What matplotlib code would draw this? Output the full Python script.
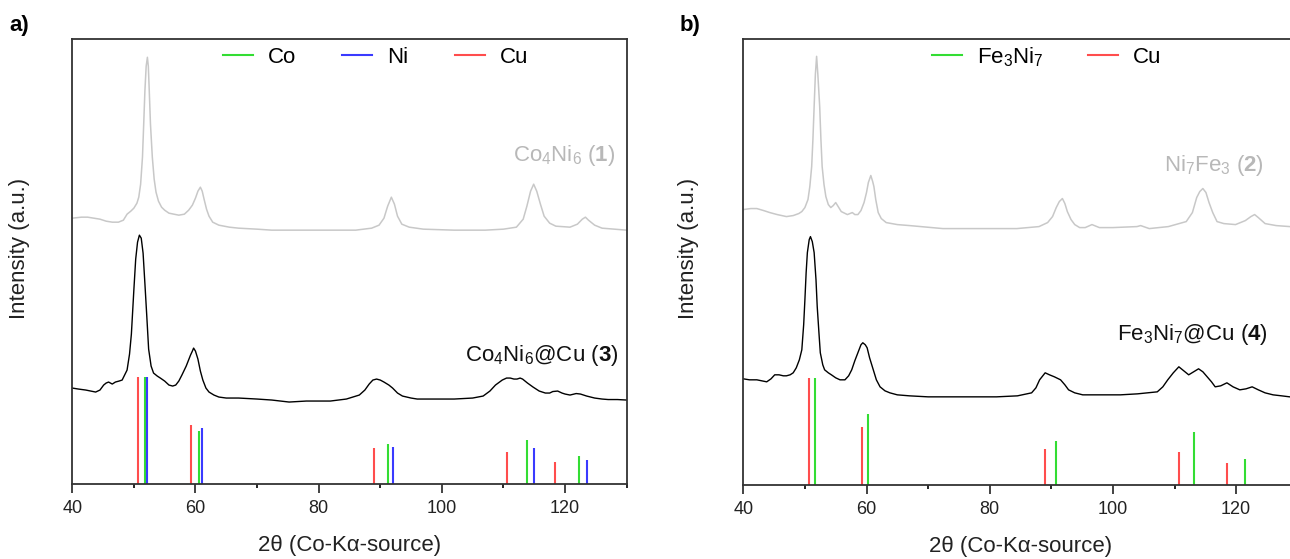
import matplotlib
matplotlib.use("Agg")
import matplotlib.pyplot as plt
from matplotlib.lines import Line2D

plt.rcParams['font.family'] = ['Liberation Sans', 'DejaVu Sans']
plt.rcParams['mathtext.fontset'] = 'custom'
plt.rcParams['mathtext.rm'] = 'Liberation Sans'
plt.rcParams['mathtext.it'] = 'Liberation Sans:italic'
plt.rcParams['mathtext.bf'] = 'Liberation Sans:bold'

# ---------------- Panel a data (2theta, intensity a.u.) ----------------
a_gray_tt = [40, 41.5, 42.5, 43.5, 44.5, 45.5, 46.5, 47.5, 48.3, 48.9, 49.5, 50.0, 50.5, 50.8,
             51.1, 51.4, 51.6, 51.8, 52.0, 52.2, 52.35, 52.5, 52.7, 53.0, 53.3, 53.6, 54.0,
             54.5, 55.0, 55.7, 56.5, 57.3, 58.2, 58.9, 59.5, 60.0, 60.4, 60.8, 61.1, 61.4,
             61.8, 62.2, 62.8, 63.8, 65.5, 67.0, 70, 72.4, 76, 81.9, 86, 88.6, 89.8, 90.6,
             91.2, 91.8, 92.3, 92.8, 93.5, 94.7, 97, 102, 107, 110, 112.1, 113.2, 113.8,
             114.4, 114.9, 115.4, 116.0, 116.6, 117.5, 118.5, 120.8, 122.0, 122.8, 123.3,
             123.8, 124.8, 126, 128, 130]
a_gray_int = [266, 267, 267, 266, 265, 263, 262, 262, 264, 270, 273, 276, 281, 287,
              300, 327, 360, 394, 418, 427, 418, 394, 360, 327, 305, 292, 283,
              277, 274, 271, 270, 269, 270, 274, 279, 286, 293, 297, 293, 285,
              275, 268, 262, 259, 257, 256, 255, 254, 254, 254, 254, 256, 259, 266,
              278, 287, 280, 268, 260, 257, 255, 254, 254, 255, 257, 265, 278,
              293, 300, 293, 280, 268, 261, 258, 257, 260, 265, 267,
              264, 259, 256, 255, 254]

a_black_tt = [40, 41, 42.2, 43.0, 43.8, 44.5, 45.1, 45.5, 45.9, 46.5, 47.0, 47.6, 48.1, 48.9,
              49.3, 49.6, 50.0, 50.3, 50.6, 50.9, 51.2, 51.5, 51.8, 52.1, 52.4, 52.8, 53.2,
              53.8, 54.3, 55.0, 55.7, 56.3, 56.8, 57.3, 57.8, 58.5, 59.2, 59.5, 59.7, 60.0,
              60.4, 60.8, 61.2, 61.7, 62.2, 63.0, 63.8, 65, 67.0, 70, 72.4, 75.2, 78, 81.9,
              84.5, 86.6, 87.5, 88.2, 88.8, 89.4, 90.0, 90.6, 91.4, 92.0, 92.8, 93.6, 95.0,
              96.0, 99, 102.0, 105, 106.7, 107.8, 108.7, 109.8, 110.5, 111.1, 111.7, 112.2,
              112.7, 113.1, 113.9, 114.8, 115.8, 116.8, 117.5, 118.0, 118.8, 119.5, 120.0,
              120.8, 121.8, 122.5, 123.5, 124.8, 126, 127, 128.5, 130]
a_black_int = [96, 95, 94, 93, 92, 94, 99, 101, 102, 100, 102, 103, 104, 114,
               130, 150, 194, 225, 242, 249, 246, 231, 200, 168, 135, 118, 111,
               108, 106, 103, 99, 98, 99, 103, 109, 118, 129, 133, 136, 133,
               125, 113, 104, 96, 92, 89, 87, 86, 86, 85, 84, 82, 83, 83,
               85, 89, 94, 100, 104, 105, 104, 102, 99, 96, 91, 88, 86,
               85, 85, 85, 86, 88, 93, 99, 104, 106, 106, 105, 105,
               106, 105, 101, 97, 93, 91, 91, 92.5, 93, 91, 90,
               89, 90.5, 90, 88, 86, 85, 84.5, 84.5, 84]

a_cu_tt = [50.7, 59.3, 89.0, 110.6, 118.4]
a_cu_int = [107, 59, 36, 32, 22]
a_co_tt = [51.8, 60.5, 91.3, 113.9, 122.2]
a_co_int = [107, 53, 40, 44, 28]
a_ni_tt = [52.2, 61.0, 92.0, 115.0, 123.5]
a_ni_int = [107, 56, 37, 36, 24]

# ---------------- Panel b data ----------------
b_gray_tt = [40, 41.2, 42.2, 43.3, 44.3, 45.5, 47.0, 48.1, 49.0, 49.5, 50.0, 50.5, 50.8, 51.1,
             51.3, 51.5, 51.7, 51.9, 52.1, 52.4, 52.6, 52.8, 53.1, 53.4, 53.8, 54.2, 54.6,
             55.0, 55.4, 55.9, 56.9, 57.3, 57.7, 58.1, 58.6, 59.1, 59.6, 60.0, 60.3, 60.7,
             61.0, 61.2, 61.5, 61.9, 62.4, 63.2, 65, 67.0, 72.4, 78, 84.4, 88, 89.4, 90.2,
             90.8, 91.3, 91.8, 92.2, 92.6, 93.2, 93.8, 94.6, 95.5, 96.6, 97.8, 100, 103.9,
             104.5, 105.9, 109, 111.9, 112.9, 113.6, 114.1, 114.6, 115.1, 115.6, 116.2,
             116.9, 118, 119.9, 121.5, 122.4, 123.0, 123.6, 124.7, 126.5, 128.7, 130]
b_gray_int = [275, 276, 276, 274, 272, 270, 268, 269, 271, 273, 277, 285, 298, 318,
              345, 378, 410, 428, 410, 378, 345, 318, 300, 288, 280, 277, 279,
              282, 278, 273, 270, 271, 272, 270, 270, 274, 282, 292, 302, 309,
              303, 298, 285, 272, 266, 262, 260, 259, 256, 256, 256, 258, 262, 268,
              277, 283, 286, 281, 273, 265, 260, 257, 257, 260, 257, 257, 258,
              259, 256, 258, 263, 272, 287, 293, 296, 292, 282, 272,
              263, 261, 260, 264, 268, 270, 267, 261, 259, 258, 257]

b_black_tt = [40, 41, 42.2, 43.0, 43.8, 44.5, 45.1, 45.8, 46.5, 47.0, 47.6, 48.1, 48.6, 49.1,
              49.5, 49.8, 50.0, 50.2, 50.4, 50.7, 50.9, 51.2, 51.5, 51.8, 52.0, 52.3, 52.5,
              52.9, 53.2, 53.8, 54.3, 55.0, 55.7, 56.5, 57.1, 57.6, 58.1, 58.6, 59.1, 59.4,
              59.8, 60.1, 60.5, 61.1, 61.6, 62.2, 63.0, 63.8, 65, 67.0, 70, 72.4, 76, 81.1,
              84.5, 86.8, 87.5, 88.1, 89.0, 89.7, 90.5, 91.5, 92.2, 92.8, 93.8, 95.1, 98,
              101.2, 104, 107.2, 108.1, 108.9, 109.8, 110.7, 111.5, 112.3, 113.1, 113.9,
              114.6, 115.3, 116.0, 116.6, 117.5, 118.5, 119.5, 120.6, 121.6, 122.6, 123.6,
              124.7, 126, 127.4, 128.7, 130]
b_black_int = [106, 105, 105, 104, 103, 106, 110, 110, 109, 109, 110, 112, 117, 125,
               135, 160, 185, 212, 232, 245, 248, 243, 232, 205, 178, 150, 132,
               120, 115, 112, 110, 107, 105, 105, 109, 115, 124, 132, 140, 142,
               140, 137, 127, 115, 105, 98, 94, 92, 90, 89, 88, 88, 88, 88,
               89, 92, 97, 105, 112, 110, 108, 105, 100, 95, 92, 90, 90,
               90, 91, 93, 98, 105, 112, 118, 114, 110, 113, 116,
               113, 108, 103, 98, 99, 102, 98, 95, 96, 98, 95,
               92, 90, 89, 88, 88]

b_cu_tt = [50.7, 59.3, 89.05, 110.8, 118.5]
b_cu_int = [107, 58, 36, 33, 22]
b_feni_tt = [51.6, 60.3, 90.8, 113.2, 121.4]
b_feni_int = [107, 71, 44, 53, 26]

xticks_major = [40, 60, 80, 100, 120]
xticks_minor = [50, 70, 90, 110, 130]

GRAY = '#c8c8c8'
GRAY_TXT = '#b8b8b8'
RED = '#ff4d4d'
GREEN = '#33dd33'
BLUE = '#3a3aff'

fig = plt.figure(figsize=(12.9, 5.59), dpi=100)
axa = fig.add_axes([0.0560, 0.1342, 0.4298, 0.7955])
axb = fig.add_axes([0.5762, 0.1324, 0.4298, 0.7973])


def style(ax):
    ax.set_xlim(40, 130)
    ax.set_ylim(0, 445)
    ax.set_yticks([])
    ax.set_xticks(xticks_major)
    ax.set_xticks(xticks_minor, minor=True)
    ax.tick_params(axis='x', which='major', direction='out', length=6.5, width=1.2,
                   labelsize=13, pad=5, colors='#222222')
    ax.tick_params(axis='x', which='minor', direction='out', length=3, width=1.2)
    for s in ax.spines.values():
        s.set_linewidth(1.3)
        s.set_color('#333333')
    ax.set_xlabel('2\u03b8 (Co-K\u03b1-source)', fontsize=16, labelpad=13, color='#222222')
    ax.set_ylabel('Intensity (a.u.)', fontsize=16, color='#222222')


style(axa)
style(axb)
axa.yaxis.set_label_coords(-0.076, 0.53)
axb.yaxis.set_label_coords(-0.080, 0.53)

# Panel a
axa.plot(a_gray_tt, a_gray_int, color=GRAY, lw=1.1)
axa.plot(a_black_tt, a_black_int, color='black', lw=1.0)
axa.vlines(a_cu_tt, 0, a_cu_int, color=RED, lw=1.5)
axa.vlines(a_co_tt, 0, a_co_int, color=GREEN, lw=1.5)
axa.vlines(a_ni_tt, 0, a_ni_int, color=BLUE, lw=1.5)

axa.text(0.980, 0.7265, r'Co$_4$Ni$_6$ ($\mathbf{1}$)', transform=axa.transAxes,
         ha='right', va='baseline', fontsize=16, color=GRAY_TXT)
axa.text(0.985, 0.276, r'Co$_4$Ni$_6$@Cu ($\mathbf{3}$)', transform=axa.transAxes,
         ha='right', va='baseline', fontsize=16, color='#111111')

ha_ = [Line2D([], [], color=GREEN, lw=1.5), Line2D([], [], color=BLUE, lw=1.5),
       Line2D([], [], color=RED, lw=1.5)]
axa.legend(ha_, ['Co', 'Ni', 'Cu'], ncol=3, frameon=False, fontsize=16,
           loc='center left', bbox_to_anchor=(0.2718, 0.9596), borderaxespad=0,
           borderpad=0, handlelength=1.35, handletextpad=0.68, columnspacing=2.07)

# Panel b
axb.plot(b_gray_tt, b_gray_int, color=GRAY, lw=1.1)
axb.plot(b_black_tt, b_black_int, color='black', lw=1.0)
axb.vlines(b_cu_tt, 0, b_cu_int, color=RED, lw=1.5)
axb.vlines(b_feni_tt, 0, b_feni_int, color=GREEN, lw=1.5)

axb.text(0.9385, 0.7055, r'Ni$_7$Fe$_3$ ($\mathbf{2}$)', transform=axb.transAxes,
         ha='right', va='baseline', fontsize=16, color=GRAY_TXT)
axb.text(0.946, 0.3255, r'Fe$_3$Ni$_7$@Cu ($\mathbf{4}$)', transform=axb.transAxes,
         ha='right', va='baseline', fontsize=16, color='#111111')

hb_ = [Line2D([], [], color=GREEN, lw=1.5), Line2D([], [], color=RED, lw=1.5)]
axb.legend(hb_, [r'Fe$_3$Ni$_7$', 'Cu'], ncol=2, frameon=False, fontsize=16,
           loc='center left', bbox_to_anchor=(0.3404, 0.9607), borderaxespad=0,
           borderpad=0, handlelength=1.35, handletextpad=0.68, columnspacing=2.0)

fig.text(9 / 1290, 1 - 25 / 559, 'a)', fontsize=16, fontweight='bold', va='center', ha='left')
fig.text(680 / 1290, 1 - 25 / 559, 'b)', fontsize=16, fontweight='bold', va='center', ha='left')

fig.savefig('out.png', dpi=100)
